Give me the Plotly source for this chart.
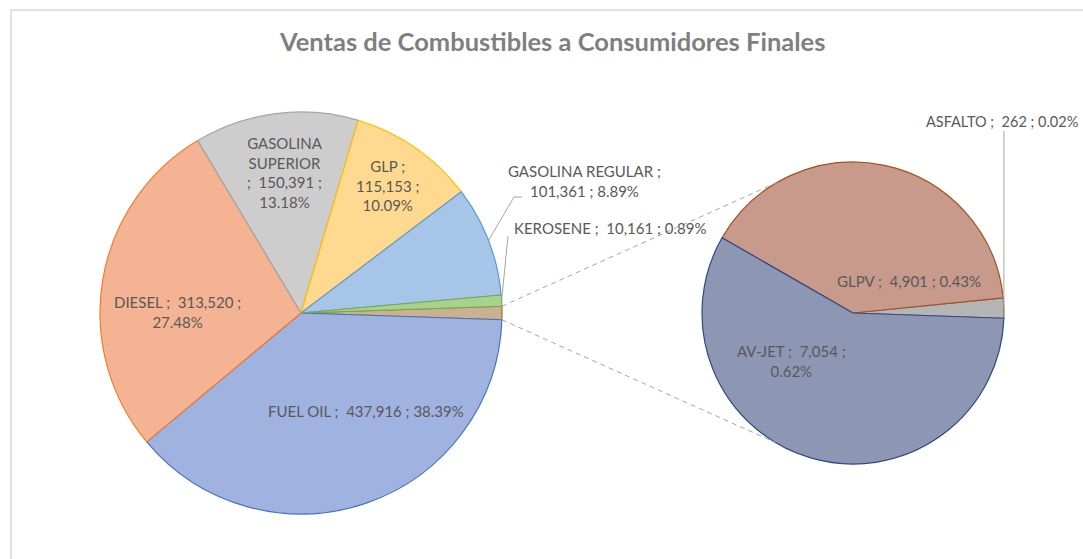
import math
import plotly.graph_objects as go

# ---------------- data ----------------
main_labels = ["Otros", "FUEL OIL", "DIESEL", "GASOLINA SUPERIOR", "GLP", "GASOLINA REGULAR", "KEROSENE"]
sec_labels = ["ASFALTO", "GLPV", "AV-JET"]
sec_values = [262, 4901, 7054]
main_values_named = [437916, 313520, 150391, 115153, 101361, 10161]
title_text = "Ventas de Combustibles a Consumidores Finales"

main_colors = ["#CBB093", "#A0B2DF", "#F4B392", "#CDCDCD", "#FFD98F", "#A7C5E8", "#A9D18E"]
main_lines = ["#9C7A14", "#4472C4", "#ED7D31", "#A5A5A5", "#FFC000", "#5B9BD5", "#70AD47"]
sec_colors = ["#B5B5B5", "#C89A8B", "#8D96B3"]
sec_lines = ["#6E6E6E", "#A5501C", "#2F4A86"]

other_total = sum(sec_values)
main_values = [other_total] + main_values_named
grand_total = sum(main_values)

# ---------------- layout geometry ----------------
W, H = 1083, 559
def px(x):
    return x / W
def py(y):
    return 1 - y / H

cx1, cy1, r1 = 301, 313, 201
cx2, cy2, r2 = 853, 313, 151

TXT = "#595959"
FONT = "Lato"
FS = 15

other_deg = other_total / grand_total * 360
main_rotation = 90 - other_deg / 2
sec_start_math = -2.0  # first secondary slice starts 2 deg below 3 o'clock, going CCW
first_sec_deg = sec_values[0] / other_total * 360
# plotly: for counterclockwise pies, the first slice lies clockwise of `rotation`
sec_rotation = 90 - sec_start_math - first_sec_deg

fig = go.Figure()
fig.add_trace(go.Pie(
    labels=main_labels, values=main_values, sort=False, direction="clockwise",
    rotation=main_rotation, textinfo="none", showlegend=False,
    marker=dict(colors=main_colors, line=dict(color=main_lines, width=1.2)),
    domain=dict(x=[px(cx1 - r1), px(cx1 + r1)], y=[py(cy1 + r1), py(cy1 - r1)]),
))
fig.add_trace(go.Pie(
    labels=sec_labels, values=sec_values, sort=False, direction="counterclockwise",
    rotation=sec_rotation, textinfo="none", showlegend=False,
    marker=dict(colors=sec_colors, line=dict(color=sec_lines, width=1.2)),
    domain=dict(x=[px(cx2 - r2), px(cx2 + r2)], y=[py(cy2 + r2), py(cy2 - r2)]),
))

def fmt(v):
    return f"{v:,}"
def pct(v):
    return f"{v / grand_total * 100:.2f}%"

# slice mid angles (math convention, degrees CCW from 3 o'clock)
def main_mid_angles():
    a = 90 - main_rotation
    res = []
    for v in main_values:
        d = v / grand_total * 360
        res.append(a - d / 2)
        a -= d
    return res

def sec_mid_angles():
    a = sec_start_math
    res = []
    for v in sec_values:
        d = v / other_total * 360
        res.append(a + d / 2)
        a += d
    return res

def on_circle(cx, cy, r, ang):
    return cx + r * math.cos(math.radians(ang)), cy - r * math.sin(math.radians(ang))

mm = main_mid_angles()
sm = sec_mid_angles()

annotations = []
def label(text, x, y, xanchor="center", size=FS):
    annotations.append(dict(text=text, x=px(x), y=py(y), xref="paper", yref="paper",
                            showarrow=False, xanchor=xanchor, yanchor="middle",
                            font=dict(family=FONT, size=size, color=TXT), align="center"))

n = dict(zip(main_labels, main_values))
s = dict(zip(sec_labels, sec_values))
label(f"FUEL OIL ;  {fmt(n['FUEL OIL'])} ; {pct(n['FUEL OIL'])}", 366, 411)
label(f"DIESEL ;  {fmt(n['DIESEL'])} ;<br>{pct(n['DIESEL'])}", 177, 312)
label(f"GASOLINA<br>SUPERIOR<br>;  {fmt(n['GASOLINA SUPERIOR'])} ;<br>{pct(n['GASOLINA SUPERIOR'])}", 285, 172)
label(f"GLP ;<br>{fmt(n['GLP'])} ;<br>{pct(n['GLP'])}", 387, 185)
label(f"GASOLINA REGULAR ;<br>{fmt(n['GASOLINA REGULAR'])} ; {pct(n['GASOLINA REGULAR'])}", 584, 181)
label(f"KEROSENE ;  {fmt(n['KEROSENE'])} ; {pct(n['KEROSENE'])}", 610, 228)
label(f"ASFALTO ;  {fmt(s['ASFALTO'])} ; {pct(s['ASFALTO'])}", 1080, 122, xanchor="right", size=14.5)
label(f"GLPV ;  {fmt(s['GLPV'])} ; {pct(s['GLPV'])}", 909, 281)
label(f"AV-JET ;  {fmt(s['AV-JET'])} ;<br>{pct(s['AV-JET'])}", 791, 361)

annotations.append(dict(text=f"<b>{title_text}</b>", x=px(552), y=py(41), xref="paper", yref="paper",
                        showarrow=False, xanchor="center", yanchor="middle",
                        font=dict(family=FONT, size=25.5, color="#7F7F7F")))

shapes = []
def seg(pts, dash="solid", color="#A6A6A6"):
    path = "M " + " L ".join(f"{px(x)},{py(y)}" for x, y in pts)
    shapes.append(dict(type="path", path=path, xref="paper", yref="paper",
                       line=dict(color=color, width=1, dash=dash)))

# leader lines
gx, gy = on_circle(cx1, cy1, r1, mm[main_labels.index("GASOLINA REGULAR")])
seg([(gx, gy), (514, 197), (522, 197)])
kx, ky = on_circle(cx1, cy1, r1, mm[main_labels.index("KEROSENE")])
seg([(kx, ky), (508, 236)])
ax_, ay_ = on_circle(cx2, cy2, r2, sm[0])
seg([(ax_, ay_), (ax_, 131)])

# pie-of-pie connector lines
t1 = on_circle(cx1, cy1, r1, other_deg / 2)
b1 = on_circle(cx1, cy1, r1, -other_deg / 2)
t2 = on_circle(cx2, cy2, r2, 120)
b2 = on_circle(cx2, cy2, r2, -121)
seg([t1, t2], dash="5px,4px")
seg([b1, b2], dash="5px,4px")

# chart border
shapes.append(dict(type="rect", xref="paper", yref="paper", x0=px(11), x1=px(1100), y0=py(600), y1=py(10),
                   line=dict(color="#D9D9D9", width=1.5), fillcolor="rgba(0,0,0,0)", layer="below"))

fig.update_layout(
    width=W, height=H, margin=dict(l=0, r=0, t=0, b=0),
    paper_bgcolor="white", plot_bgcolor="white",
    annotations=annotations, shapes=shapes,
)
fig.write_html("out.html", config={"displayModeBar": False},
               post_script="document.body.style.margin='0px';document.body.style.overflow='hidden';")
